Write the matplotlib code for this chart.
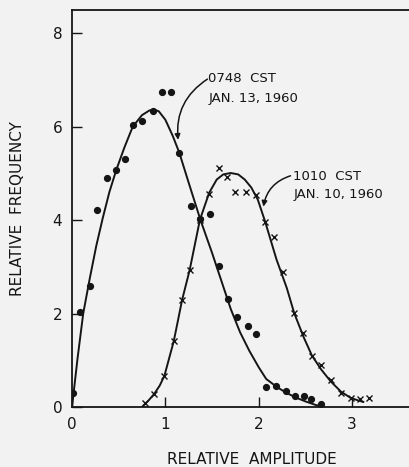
import matplotlib
matplotlib.use('Agg')
import matplotlib.pyplot as plt

# 0748 CST, Jan. 13, 1960 (dots)
dots_x = [0.01, 0.09, 0.19, 0.27, 0.37, 0.475, 0.57, 0.65, 0.75, 0.87, 0.96, 1.06,
          1.15, 1.27, 1.375, 1.48, 1.57, 1.67, 1.77, 1.88, 1.97, 2.08, 2.18, 2.29,
          2.39, 2.48, 2.56, 2.67]
dots_y = [0.3, 2.03, 2.6, 4.22, 4.9, 5.08, 5.31, 6.04, 6.12, 6.34, 6.74, 6.74,
          5.44, 4.31, 4.03, 4.14, 3.01, 2.32, 1.92, 1.73, 1.56, 0.43, 0.46, 0.34,
          0.24, 0.24, 0.18, 0.07]
curve_a_x = [0, 0.06, 0.12, 0.19, 0.26, 0.33, 0.4, 0.475, 0.56, 0.65, 0.75, 0.83,
             0.88, 0.93, 1.0, 1.08, 1.15, 1.25, 1.375, 1.5, 1.6, 1.7, 1.8, 1.9, 2.0,
             2.08, 2.2, 2.3, 2.4, 2.5, 2.6, 2.69]
curve_a_y = [0, 1.05, 2.0, 2.75, 3.45, 4.05, 4.6, 5.08, 5.55, 6.0, 6.25, 6.35,
             6.37, 6.33, 6.15, 5.8, 5.44, 4.8, 4.01, 3.3, 2.7, 2.1, 1.6, 1.2, 0.85,
             0.6, 0.42, 0.3, 0.2, 0.12, 0.05, 0.0]

# 1010 CST, Jan. 10, 1960 (crosses)
cross_x = [0.78, 0.88, 0.99, 1.09, 1.18, 1.26, 1.37, 1.47, 1.57, 1.66, 1.75, 1.86,
           1.97, 2.07, 2.16, 2.26, 2.38, 2.47, 2.57, 2.67, 2.77, 2.88, 2.99, 3.08, 3.18]
cross_y = [0.09, 0.28, 0.67, 1.41, 2.3, 2.93, 4.01, 4.57, 5.12, 4.93, 4.6, 4.6,
           4.53, 3.96, 3.64, 2.89, 2.01, 1.59, 1.1, 0.89, 0.57, 0.31, 0.19, 0.17, 0.19]
curve_b_x = [0.76, 0.82, 0.88, 0.94, 0.99, 1.09, 1.18, 1.26, 1.37, 1.47, 1.55, 1.62,
             1.7, 1.78, 1.85, 1.92, 1.99, 2.07, 2.19, 2.3, 2.38, 2.48, 2.57, 2.67,
             2.77, 2.88, 2.98, 3.08, 3.12]
curve_b_y = [0.02, 0.14, 0.28, 0.46, 0.67, 1.41, 2.3, 2.93, 4.01, 4.59, 4.87, 4.98,
             5.01, 4.98, 4.87, 4.7, 4.44, 3.96, 3.16, 2.55, 2.01, 1.5, 1.1, 0.8,
             0.55, 0.33, 0.2, 0.13, 0.11]

ink = '#151515'
bg = '#f2f2f2'

fig = plt.figure(figsize=(4.1, 4.67), dpi=100, facecolor=bg)
ax = fig.add_axes([72/410, 1 - 407/467, (410 - 72)/410, (407 - 10)/467], facecolor=bg)

ax.plot(curve_a_x, curve_a_y, color=ink, lw=1.4)
ax.plot(curve_b_x, curve_b_y, color=ink, lw=1.4)
ax.plot(dots_x, dots_y, 'o', color=ink, ms=4.2, ls='none')
ax.plot(cross_x, cross_y, 'x', color=ink, ms=4, mew=1, ls='none')

ax.set_xlim(0, 3.62)
ax.set_ylim(0, 8.5)
ax.set_xticks([0, 1, 2, 3])
ax.set_yticks([0, 2, 4, 6, 8])
ax.tick_params(direction='in', length=7, width=1, colors=ink, labelsize=11, pad=7)
for s in ['left', 'bottom', 'top']:
    ax.spines[s].set_linewidth(1.3)
    ax.spines[s].set_color(ink)
ax.spines['right'].set_visible(False)

ax.set_xlabel('RELATIVE  AMPLITUDE', fontsize=11, color=ink)
ax.set_ylabel('RELATIVE  FREQUENCY', fontsize=11, color=ink)
ax.xaxis.set_label_coords(0.533, -0.113)
ax.yaxis.set_label_coords(-0.138, 0.5)

ax.text(1.46, 7.03, '0748  CST', fontsize=9.5, color=ink, va='center', ha='left')
ax.text(1.46, 6.6, 'JAN. 13, 1960', fontsize=9.5, color=ink, va='center', ha='left')
ax.annotate('', xy=(1.136, 5.72), xytext=(1.45, 7.02),
            arrowprops=dict(arrowstyle='-|>', color=ink, lw=1.1, mutation_scale=8,
                            connectionstyle='arc3,rad=0.3', shrinkA=0, shrinkB=0))

ax.text(2.37, 4.93, '1010  CST', fontsize=9.5, color=ink, va='center', ha='left')
ax.text(2.37, 4.55, 'JAN. 10, 1960', fontsize=9.5, color=ink, va='center', ha='left')
ax.annotate('', xy=(2.05, 4.29), xytext=(2.34, 4.95),
            arrowprops=dict(arrowstyle='-|>', color=ink, lw=1.1, mutation_scale=8,
                            connectionstyle='arc3,rad=0.3', shrinkA=0, shrinkB=0))

plt.savefig('out.png', dpi=100, facecolor=bg)
